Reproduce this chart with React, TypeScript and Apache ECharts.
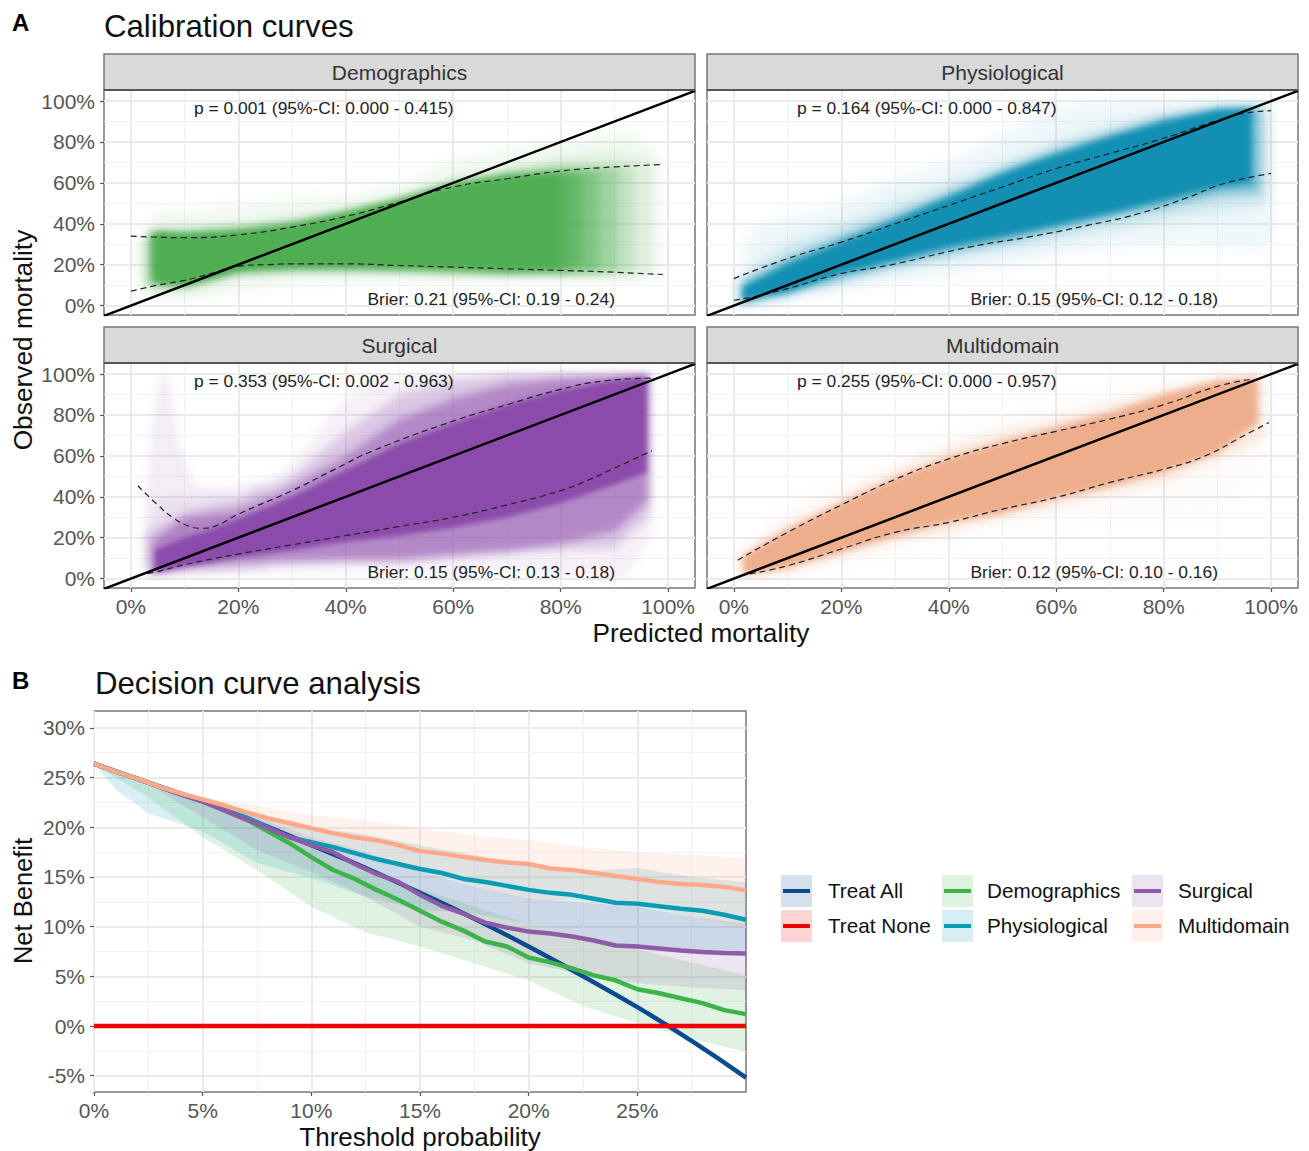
import React, { useEffect, useRef } from "react";
import * as echarts from "echarts";

const FONT = "Liberation Sans";
const calTicks = [0, 20, 40, 60, 80, 100];
const calMinor = [10, 30, 50, 70, 90];
const dcaXTicks = [0, 5, 10, 15, 20, 25];
const dcaYTicks = [-5, 0, 5, 10, 15, 20, 25, 30];
const dcaXMinor = [2.5, 7.5, 12.5, 17.5, 22.5, 27.5];
const dcaYMinor = [-2.5, 2.5, 7.5, 12.5, 17.5, 22.5, 27.5];
const diagonal = [[-5, -5], [105, 105]];

const panelNames = ["Demographics", "Physiological", "Surgical", "Multidomain"];
const pTexts = [
  "p = 0.001 (95%-CI: 0.000 - 0.415)",
  "p = 0.164 (95%-CI: 0.000 - 0.847)",
  "p = 0.353 (95%-CI: 0.002 - 0.963)",
  "p = 0.255 (95%-CI: 0.000 - 0.957)",
];
const brierTexts = [
  "Brier: 0.21 (95%-CI: 0.19 - 0.24)",
  "Brier: 0.15 (95%-CI: 0.12 - 0.18)",
  "Brier: 0.15 (95%-CI: 0.13 - 0.18)",
  "Brier: 0.12 (95%-CI: 0.10 - 0.16)",
];

// dashed confidence limits [predicted, observed]
const demoUpper = [[0, 34], [10, 33.2], [20, 34.6], [30, 38.4], [40, 43.6], [50, 50.6], [60, 58], [70, 62], [80, 65.8], [90, 67.8], [99, 69]];
const demoLower = [[0, 7], [5, 10], [10, 12.3], [15, 15.8], [20, 19.3], [25, 20], [30, 20.4], [40, 20.4], [50, 19.6], [60, 18.8], [70, 18], [80, 17.2], [90, 16.3], [99, 15.2]];
const physUpper = [[0, 13.2], [10, 23], [20, 31], [30, 40], [40, 49], [50, 58], [60, 67], [70, 74.4], [80, 81.8], [90, 90.5], [95, 94], [100, 95.3]];
const physLower = [[0, 2.6], [5, 5], [10, 8.3], [20, 15.7], [28.8, 19.7], [44, 28.7], [55, 33.6], [66, 39.3], [75.4, 45], [84, 52.4], [91.3, 59.7], [100, 64.6]];
const surgUpper = [[1.3, 45.4], [5, 36], [8, 29.5], [11, 25.5], [13, 24.6], [16, 26], [20, 31.5], [30, 43], [38, 53.5], [45, 62.4], [60, 77], [70, 85], [80, 92.5], [88, 96.6], [97, 98]];
const surgLower = [[1.3, 1.5], [5, 3.5], [10, 6.8], [20, 12], [30, 16.5], [40, 21], [50, 25.5], [60, 30], [70, 36], [80, 43], [85, 48], [90, 54], [97, 62.5]];
const multUpper = [[0.7, 9], [10, 22.6], [20, 36], [30, 48.5], [40, 58.5], [50, 66], [60, 72], [70, 78], [80, 85], [90, 94], [96.5, 97.5]];
const multLower = [[3, 2.3], [10, 6.3], [20, 14.5], [30, 22.6], [40, 27.5], [50, 34], [60, 39.7], [70, 47], [80, 53.5], [87.7, 60], [95, 70], [99.6, 76.3]];

// nested fans of bootstrap curves, outer first: x, lower, upper
const demoFan = [
  { x: [1, 5, 10, 20, 30, 40, 50, 60, 70, 80, 93, 98.7], lo: [14, 3, 2, 6, 10, 12, 12, 12, 12, 12, 12, 14], hi: [32, 48, 46, 50, 53, 54, 60, 72, 77, 81, 86, 74] },
  { x: [2, 5, 10, 20, 30, 40, 50, 60, 70, 80, 90, 97], lo: [10, 5, 6, 13, 15, 15, 15, 14, 14, 14, 14, 15], hi: [30, 38, 39, 41, 44, 48, 54, 62, 68, 72, 75, 70] },
  { x: [3, 10, 20, 30, 40, 50, 60, 70, 80, 93.5], lo: [10, 9, 16, 17, 17, 17, 16, 15, 15, 16], hi: [36, 36, 38, 41, 46, 52, 60, 65, 69, 68] },
  { x: [3.5, 10, 20, 30, 40, 50, 60, 70, 80, 90.5], lo: [11, 10, 17, 18, 18, 18, 17, 16, 16, 17], hi: [36, 35, 37, 40, 45, 51, 59, 64, 67, 67] },
  { x: [4, 10, 20, 30, 40, 50, 60, 70, 87], lo: [11, 10.5, 17.5, 18.5, 18.5, 18, 17.5, 17, 17], hi: [35, 34.5, 36.5, 39.5, 45, 51, 59, 63.5, 66] },
  { x: [4.2, 10, 20, 30, 40, 50, 60, 70, 84], lo: [12, 11, 18, 19, 19, 18.5, 18, 17, 18], hi: [35, 34.5, 36, 39, 44.5, 51, 58.5, 63, 65] },
  { x: [4.4, 10, 20, 30, 40, 50, 60, 70, 81.5], lo: [12, 11, 18, 19.5, 19.5, 19, 18.5, 17.5, 18], hi: [35, 34.2, 35.5, 38.5, 44, 50.8, 58, 62.5, 64.5] },
  { x: [4.5, 10, 15, 20, 30, 40, 50, 60, 70, 79.5], lo: [12, 11, 14, 18, 20, 20, 19.5, 19, 18, 19], hi: [35, 34, 34.5, 35, 38, 44, 50.5, 58, 62, 64] },
];
const physFan = [
  { x: [0.5, 3, 10, 20, 30, 40, 50, 60, 70, 85, 95, 100], lo: [0, 0, 2, 7, 11, 15, 19, 24, 28, 30, 28, 28], hi: [10, 38, 43, 50, 63, 70, 84, 97, 100, 100, 100, 100] },
  { x: [1, 5, 10, 20, 30, 40, 50, 60, 70, 80, 90, 99.5], lo: [0, 2, 5, 11, 17, 22, 27, 32, 37, 42, 46, 50], hi: [12, 22, 30, 40, 50, 60, 70, 80, 88, 94, 98, 98] },
  { x: [1.3, 10, 20, 30, 40, 50, 60, 70, 80, 90, 98], lo: [1, 6, 13, 20, 26, 31, 37, 43, 48, 54, 55], hi: [11, 23, 34, 44, 55, 66, 76, 84, 92, 96.5, 97] },
  { x: [1.7, 3, 10, 20, 30, 40, 50, 60, 70, 80, 90, 96.4], lo: [2, 3.4, 6.7, 15.7, 22, 28.7, 33.6, 39.3, 45, 51.5, 58, 60], hi: [9, 10.8, 20.5, 31, 41.8, 53, 64.6, 74, 82.5, 90, 95.6, 96.4] },
];
const surgFan = [
  { x: [2.5, 4, 5.5, 7, 9, 12, 18, 25], lo: [5, 3, 3, 3, 3, 3, 3, 3], hi: [30, 75, 100, 100, 65, 45, 44, 48] },
  { x: [3, 5, 20, 30, 38, 44.5, 54, 70, 88, 92, 97], lo: [1, 2, 3, 3, 3, 3, 3, 4, 0, 0, 20], hi: [22, 40, 40, 56, 83.6, 96.6, 100, 100, 100, 100, 100] },
  { x: [3, 10, 20, 30, 40, 50, 60, 70, 80, 90, 96.5], lo: [2, 4, 6, 8, 9, 9, 12, 14, 14, 15, 30], hi: [22, 32, 38, 50, 72, 90, 97, 100, 100, 100, 100] },
  { x: [4, 10, 20, 30, 40, 50, 60, 70, 80, 90, 96.3], lo: [3, 6, 8, 8.5, 9, 9, 11, 13, 17, 23, 38], hi: [18, 30, 33, 45, 60, 78, 88, 95, 98, 99, 100] },
  { x: [4.5, 10, 15, 20, 30, 40, 50, 60, 70, 80, 90, 96], lo: [3, 6, 8, 10.5, 14, 18, 21, 25, 30, 37, 46, 52], hi: [14, 20, 24, 29, 40, 53, 66, 76, 85, 92, 97, 98.5] },
];
const multFan = [
  { x: [1, 10, 20, 30, 40, 50, 60, 70, 80, 90, 99], lo: [0, 0, 6, 12, 17, 22, 26, 28, 28, 30, 50], hi: [12, 36, 50, 62, 72, 80, 88, 94, 98, 100, 100] },
  { x: [1.3, 10, 20, 30, 40, 50, 60, 70, 80, 90, 98.5], lo: [1, 3, 11, 18, 23, 30, 35, 42, 47, 58, 68], hi: [12, 27, 40, 53, 64, 72, 78, 85, 92, 98, 99] },
  { x: [1.7, 3, 10, 20, 30, 40, 50, 60, 70, 80, 90, 97.5], lo: [2, 2.5, 5.5, 13, 21, 27.5, 32, 39.7, 45, 52, 61.6, 76], hi: [11, 13, 24, 37, 49, 59, 67, 74, 81, 90, 96.6, 98] },
];
const demoAlpha = [0.08, 0.12, 0.2, 0.3, 0.4, 0.5, 0.6, 1];
const physAlpha = [0.07, 0.14, 0.45, 1];
const surgAlpha = [0.1, 0.08, 0.25, 0.5, 1];
const multAlpha = [0.03, 0.25, 1];
const demoBlur = [14, 10, 8, 8, 8, 8, 8, 6];
const physBlur = [14, 12, 10, 6];
const surgBlur = [10, 10, 10, 8, 5];
const multBlur = [14, 12, 6];

// decision curves: one value per 1 % threshold
const dcaX = [0, 1, 2, 3, 4, 5, 6, 7, 8, 9, 10, 11, 12, 13, 14, 15, 16, 17, 18, 19, 20, 21, 22, 23, 24, 25, 26, 27, 28, 29, 30];
const treatAllX = [0, 2.5, 5, 7.5, 10, 12.5, 15, 17.5, 20, 22.5, 25, 27.5, 30];
const treatAll = [26.4, 24.5, 22.6, 20.5, 18.2, 15.9, 13.4, 10.8, 8.0, 5.0, 1.9, -1.5, -5.2];
const treatNone = [0, 0];
const treatNoneX = [0, 30];
const demoNB = [26.4, 25.6, 24.9, 24.1, 23.3, 22.6, 21.7, 20.8, 19.6, 18.4, 17, 15.7, 14.8, 13.7, 12.7, 11.6, 10.5, 9.6, 8.5, 8, 6.9, 6.4, 5.8, 5.1, 4.6, 3.7, 3.3, 2.8, 2.3, 1.6, 1.2];
const physNB = [26.4, 25.6, 24.9, 24.1, 23.3, 22.6, 21.8, 21, 20, 19, 18.5, 18, 17.4, 16.8, 16.3, 15.8, 15.4, 14.8, 14.5, 14.1, 13.7, 13.4, 13.2, 12.8, 12.4, 12.3, 12.05, 11.8, 11.6, 11.2, 10.7];
const surgNB = [26.4, 25.6, 24.9, 24.1, 23.3, 22.6, 21.7, 20.8, 19.9, 19, 18.2, 17.5, 16.3, 15.3, 14.5, 13.2, 12.1, 11.3, 10.4, 9.9, 9.5, 9.3, 9, 8.6, 8.1, 8, 7.8, 7.6, 7.45, 7.35, 7.3];
const multNB = [26.4, 25.6, 24.9, 24.1, 23.4, 22.8, 22.2, 21.5, 20.9, 20.4, 19.9, 19.4, 19, 18.7, 18.2, 17.6, 17.35, 17, 16.7, 16.45, 16.3, 15.85, 15.7, 15.4, 15.1, 14.8, 14.5, 14.3, 14.2, 14, 13.65];

// ribbons
const ribbonX = [0, 1, 2.5, 5, 7.5, 10, 12.5, 15, 17.5, 20, 22.5, 25, 27.5, 30];
const demoRibHi = [26.4, 25.6, 24.5, 22.4, 20.3, 17.9, 15.7, 13.8, 12, 10.3, 9, 7.7, 6.4, 5.1];
const demoRibLo = [26.4, 25, 23, 19, 15.7, 12, 9.4, 8, 6.3, 4.6, 2, 0.3, -1.3, -2.6];
const physRibHi = [26.4, 25.7, 24.6, 22.8, 21.5, 20, 19.3, 18.2, 17.2, 16.2, 15.6, 15.9, 15, 14.5];
const physRibLo = [26.4, 23.8, 21.4, 19.6, 16.4, 14.9, 13, 11.7, 11.3, 10.3, 9, 7.8, 7.6, 7.5];
const surgRibHi = [26.4, 25.6, 24.6, 22.7, 21, 19, 17.5, 15.5, 14, 12.8, 12.4, 12, 11, 10.3];
const surgRibLo = [26.4, 25.5, 24.3, 21, 17.7, 15.5, 13, 10, 8.6, 6.3, 5.2, 4.3, 3.9, 3.6];
const multRibHi = [26.4, 25.7, 24.7, 23, 22.2, 21.2, 20.7, 19.9, 19.2, 18.7, 18, 17.5, 17.2, 16.9];
const multRibLo = [26.4, 25.5, 24.4, 22.4, 20, 18.5, 16.8, 15.5, 14, 12.7, 12.7, 12.4, 11, 10];

const GREEN = "#4fae52";
const TEAL = "#128fb2";
const PURPLE = "#8b4bab";
const ORANGE = "#eeae8c";
const L_NAVY = "#0b4a8f";
const L_RED = "#ee0000";
const L_GREEN = "#3cb44a";
const L_TEAL = "#0a9bb5";
const L_PURPLE = "#8e5ba6";
const L_ORANGE = "#ffa98a";

const TICK_COLOR = "#555";
const GRID_MAJOR = "#ebebeb";
const GRID_MINOR = "#f2f2f2";
const BORDER = "#777";

const panels = [
  { left: 104, top: 90, fan: demoFan, alpha: demoAlpha, blur: demoBlur, color: GREEN, up: demoUpper, low: demoLower, showX: false, showY: true },
  { left: 707, top: 90, fan: physFan, alpha: physAlpha, blur: physBlur, color: TEAL, up: physUpper, low: physLower, showX: false, showY: false },
  { left: 104, top: 363, fan: surgFan, alpha: surgAlpha, blur: surgBlur, color: PURPLE, up: surgUpper, low: surgLower, showX: true, showY: true },
  { left: 707, top: 363, fan: multFan, alpha: multAlpha, blur: multBlur, color: ORANGE, up: multUpper, low: multLower, showX: true, showY: false },
];

function axisOf(min: number, max: number, ticks: number[], showLabels: boolean, gridIndex: number, type: string) {
  return {
    type: "value",
    gridIndex,
    min,
    max,
    position: type === "x" ? "bottom" : "left",
    axisLine: { show: false, onZero: false },
    axisTick: { show: showLabels, length: 4, customValues: ticks, lineStyle: { color: TICK_COLOR, width: 1.2 } },
    axisLabel: {
      show: showLabels,
      customValues: ticks,
      margin: type === "x" ? 8 : 9,
      fontFamily: FONT,
      fontSize: 21,
      color: TICK_COLOR,
      hideOverlap: false,
      formatter: (v: number) => `${v}%`,
    },
    splitLine: { show: true, lineStyle: { color: GRID_MAJOR, width: 2 } },
    minorSplitLine: { show: false },
  };
}

function minorLines(gi: number, xs: number[], ys: number[]) {
  return {
    type: "line",
    xAxisIndex: gi,
    yAxisIndex: gi,
    data: [],
    silent: true,
    z: 1,
    markLine: {
      silent: true,
      z: 1,
      symbol: "none",
      label: { show: false },
      lineStyle: { color: GRID_MINOR, width: 1, type: "solid" },
      data: [...xs.map((v) => ({ xAxis: v })), ...ys.map((v) => ({ yAxis: v }))],
    },
  };
}

function fanSeries(gi: number, bands: any[], alpha: number[], blur: number[], color: string) {
  return {
    type: "custom",
    xAxisIndex: gi,
    yAxisIndex: gi,
    coordinateSystem: "cartesian2d",
    clip: true,
    silent: true,
    z: 3,
    data: bands.map((_, i) => [i, i]),
    renderItem: (params: any, api: any) => {
      const i = params.dataIndex;
      const b = bands[i];
      const upper = b.x.map((x: number, k: number) => api.coord([x, b.hi[k]]));
      const lower = b.x.map((x: number, k: number) => api.coord([x, b.lo[k]])).reverse();
      return {
        type: "polygon",
        shape: { points: [...upper, ...lower] },
        style: { fill: color, opacity: alpha[i], shadowBlur: blur[i], shadowColor: color },
      };
    },
  };
}

function lineSeries(gi: number, data: number[][], color: string, width: number, extra: any = {}) {
  return {
    type: "line",
    xAxisIndex: gi,
    yAxisIndex: gi,
    data,
    showSymbol: false,
    symbol: "none",
    silent: true,
    lineStyle: { color, width },
    z: 5,
    ...extra,
  };
}

function zip(x: number[], y: number[]) {
  return x.map((v, i) => [v, y[i]]);
}

function ribbon(gi: number, hi: number[], lo: number[], color: string) {
  return {
    type: "custom",
    xAxisIndex: gi,
    yAxisIndex: gi,
    coordinateSystem: "cartesian2d",
    clip: true,
    silent: true,
    z: 3,
    data: [[0, 0]],
    renderItem: (_p: any, api: any) => {
      const upper = ribbonX.map((x, k) => api.coord([x, hi[k]]));
      const lower = ribbonX.map((x, k) => api.coord([x, lo[k]])).reverse();
      return { type: "polygon", shape: { points: [...upper, ...lower] }, style: { fill: color, opacity: 0.16 } };
    },
  };
}

function text(t: string, x: number, y: number, size: number, extra: any = {}, styleExtra: any = {}) {
  return {
    type: "text",
    x,
    y,
    z: 50,
    silent: true,
    ...extra,
    style: { text: t, fontFamily: FONT, fontSize: size, fill: "#111", textAlign: "left", textVerticalAlign: "middle", ...styleExtra },
  };
}

const legendRows = [
  { name: "Treat All", keyX: 781, textX: 828, y: 891, color: L_NAVY },
  { name: "Treat None", keyX: 781, textX: 828, y: 926, color: L_RED },
  { name: "Demographics", keyX: 942, textX: 987, y: 891, color: L_GREEN },
  { name: "Physiological", keyX: 942, textX: 987, y: 926, color: L_TEAL },
  { name: "Surgical", keyX: 1132, textX: 1178, y: 891, color: L_PURPLE },
  { name: "Multidomain", keyX: 1132, textX: 1178, y: 926, color: L_ORANGE },
];

function buildOption() {
  const PW = 591;
  const PH = 225;
  const SH = 36;
  const grid: any[] = panels.map((p) => ({
    left: p.left, top: p.top, width: PW, height: PH, show: true, backgroundColor: "#fff", borderColor: BORDER, borderWidth: 1.5,
  }));
  grid.push({ left: 94, top: 711, width: 652, height: 381, show: true, backgroundColor: "#fff", borderColor: BORDER, borderWidth: 1.5 });

  const xAxis: any[] = panels.map((p, i) => axisOf(-5, 105, calTicks, p.showX, i, "x"));
  const yAxis: any[] = panels.map((p, i) => axisOf(-4.6, 105.4, calTicks, p.showY, i, "y"));
  xAxis.push(axisOf(0, 30, dcaXTicks, true, 4, "x"));
  yAxis.push(axisOf(-6.64, 31.7, dcaYTicks, true, 4, "y"));

  const series: any[] = [];
  panels.forEach((p, i) => {
    series.push(minorLines(i, calMinor, calMinor));
    series.push(fanSeries(i, p.fan, p.alpha, p.blur, p.color));
    series.push(lineSeries(i, p.up, "#222", 1.2, { smooth: true, lineStyle: { color: "#222", width: 1.2, type: [6, 4] }, z: 6 }));
    series.push(lineSeries(i, p.low, "#222", 1.2, { smooth: true, lineStyle: { color: "#222", width: 1.2, type: [6, 4] }, z: 6 }));
    series.push(lineSeries(i, diagonal, "#000", 2.5, { z: 7 }));
  });
  series.push(minorLines(4, dcaXMinor, dcaYMinor));
  series.push(ribbon(4, demoRibHi, demoRibLo, L_GREEN));
  series.push(ribbon(4, physRibHi, physRibLo, L_TEAL));
  series.push(ribbon(4, surgRibHi, surgRibLo, L_PURPLE));
  series.push(ribbon(4, multRibHi, multRibLo, L_ORANGE));
  series.push(lineSeries(4, zip(treatAllX, treatAll), L_NAVY, 4.5, { name: "Treat All", smooth: true }));
  series.push(lineSeries(4, zip(treatNoneX, treatNone), L_RED, 4.5, { name: "Treat None" }));
  series.push(lineSeries(4, zip(dcaX, demoNB), L_GREEN, 4.5, { name: "Demographics" }));
  series.push(lineSeries(4, zip(dcaX, physNB), L_TEAL, 4.5, { name: "Physiological" }));
  series.push(lineSeries(4, zip(dcaX, surgNB), L_PURPLE, 4.5, { name: "Surgical" }));
  series.push(lineSeries(4, zip(dcaX, multNB), L_ORANGE, 4.5, { name: "Multidomain" }));

  const g: any[] = [];
  panels.forEach((p, i) => {
    g.push({
      type: "rect",
      silent: true,
      z: 10,
      shape: { x: p.left, y: p.top - SH, width: PW, height: SH },
      style: { fill: "#d9d9d9", stroke: BORDER, lineWidth: 1.5 },
    });
    g.push({
      type: "line",
      silent: true,
      z: 11,
      shape: { x1: p.left, y1: p.top, x2: p.left + PW, y2: p.top },
      style: { stroke: "#555", lineWidth: 2 },
    });
    g.push(text(panelNames[i], p.left + PW / 2, p.top - SH / 2, 21, {}, { textAlign: "center", fill: "#333" }));
    g.push(text(pTexts[i], p.left + 90, p.top + 18, 17.4, {}, { fill: "#222" }));
    g.push(text(brierTexts[i], p.left + 263.5, p.top + 208.5, 17.4, {}, { fill: "#222" }));
  });
  g.push(text("A", 12, 22, 24, {}, { fontWeight: "bold", fill: "#000" }));
  g.push(text("B", 12, 680, 24, {}, { fontWeight: "bold", fill: "#000" }));
  g.push(text("Calibration curves", 104, 26, 31.2));
  g.push(text("Decision curve analysis", 95, 683, 31.2));
  g.push(text("Predicted mortality", 701, 633, 26.2, {}, { textAlign: "center" }));
  g.push(text("Observed mortality", 23, 340, 26.3, { rotation: Math.PI / 2 }, { textAlign: "center" }));
  g.push(text("Threshold probability", 420, 1136.5, 26, {}, { textAlign: "center" }));
  g.push(text("Net Benefit", 23, 901, 25.5, { rotation: Math.PI / 2 }, { textAlign: "center" }));

  legendRows.forEach((r) => {
    g.push({
      type: "rect",
      silent: true,
      shape: { x: r.keyX, y: r.y - 16, width: 31, height: 32 },
      style: { fill: r.color, opacity: 0.17 },
    });
    g.push({
      type: "line",
      silent: true,
      shape: { x1: r.keyX + 2, y1: r.y, x2: r.keyX + 29, y2: r.y },
      style: { stroke: r.color, lineWidth: 4 },
    });
    g.push(text(r.name, r.textX, r.y - 0.5, 20.7));
  });

  return { animation: false, backgroundColor: "#fff", grid, xAxis, yAxis, series, graphic: g };
}

// The SVG renderer only offers drop shadows; turn them into a plain blur so the fans have soft edges.
function softenFans(root: HTMLElement) {
  root.querySelectorAll("svg [filter]").forEach((el) => {
    const id = (el.getAttribute("filter") || "").replace(/^url\(#?|\)$/g, "");
    const f = root.querySelector(`[id="${id}"]`);
    const std = f && f.firstElementChild ? parseFloat(f.firstElementChild.getAttribute("stdDeviation") || "0") : 0;
    el.removeAttribute("filter");
    (el as SVGElement).style.filter = `blur(${std}px)`;
  });
}

export default function App() {
  const ref = useRef<HTMLDivElement>(null);
  useEffect(() => {
    const chart = echarts.init(ref.current!, undefined, { renderer: "svg" });
    chart.on("finished", () => softenFans(ref.current!));
    chart.setOption(buildOption() as any);
    softenFans(ref.current!);
    return () => chart.dispose();
  }, []);
  return <div ref={ref} style={{ position: "absolute", left: 0, top: 0, width: 1309, height: 1151 }} />;
}
